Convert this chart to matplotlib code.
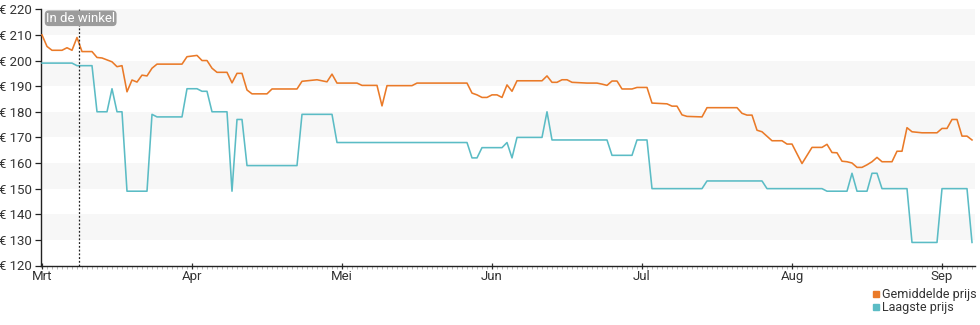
import matplotlib
matplotlib.use("Agg")
import matplotlib.pyplot as plt
from matplotlib.lines import Line2D
import numpy as np

plt.rcParams['font.family'] = ['Roboto', 'DejaVu Sans']

# Day offsets from 1 March and prices (EUR) at each price change
avg_days = [0, 1, 2, 4, 5, 6, 7, 8, 10, 11, 12, 14, 15, 16, 17, 18, 19, 20, 21, 22, 23,
            28, 29, 31, 32, 33, 34, 35, 37, 38, 39, 40, 41, 42, 45, 46, 51, 52, 55, 57,
            58, 59, 63, 64, 67, 68, 69, 74, 75, 85, 86, 87, 88, 89, 90, 91, 92, 93, 94,
            95, 100, 101, 102, 103, 104, 105, 106, 109, 111, 112, 113, 114, 115, 116,
            118, 119, 121, 122, 125, 126, 127, 128, 129, 132, 133, 139, 140, 141, 142,
            143, 144, 146, 148, 149, 150, 152, 154, 156, 157, 158, 159, 160, 161, 162,
            163, 164, 165, 166, 167, 168, 170, 171, 172, 173, 174, 176, 179, 180, 181,
            182, 183, 184, 185, 186]
avg_prices = [210, 205.5, 204, 204, 205, 204, 209, 203.5, 203.5, 201.2, 201, 199.5, 197.6,
              198, 187.8, 192.4, 191.6, 194.3, 194, 197, 198.6,
              198.6, 201.5, 202, 200, 200, 197, 195.4, 195.4, 191.3, 195, 195, 188.5, 187,
              187, 188.9, 188.9, 191.9, 192.5, 191.7,
              194.7, 191.2, 191.2, 190.3, 190.3, 182.3, 190.2, 190.2, 191.2, 191.2, 187.3,
              186.6, 185.6, 185.6, 186.6, 186.6, 185.6, 190.5, 188,
              192.1, 192.1, 194, 191.5, 191.5, 192.5, 192.5, 191.5, 191.2, 191.2, 190.8,
              190.3, 192, 192, 188.9,
              188.9, 189.5, 189.5, 183.4, 183.1, 182.2, 182.2, 178.8, 178.2, 178, 181.6,
              181.6, 179.4, 178.7, 178.7,
              172.8, 172.2, 168.7, 168.7, 167.4, 167.4, 159.8, 166.1, 166.1, 167.3, 164.1,
              164, 160.7, 160.5, 160,
              158.3, 158.3, 159.3, 160.5, 162.2, 160.5, 160.5, 164.6, 164.6, 173.8, 172.2,
              171.8, 171.8, 173.5, 173.5,
              177, 177, 170.5, 170.5, 169]

low_days = [0, 6, 7, 10, 11, 13, 14, 15, 16, 17, 21, 22, 23, 28, 29, 31, 32, 33, 34, 37,
            38, 39, 40, 41, 51, 52, 58, 59, 85, 86, 87, 88, 92, 93, 94, 95, 100, 101, 102,
            113, 114, 118, 119, 121, 122, 132, 133, 144, 145, 156, 157, 161, 162, 163, 165,
            166, 167, 168, 173, 174, 179, 180, 185, 186]
low_prices = [199, 199, 198, 198, 180, 180, 189, 180, 180, 149, 149, 179, 178, 178, 189, 189,
              188, 188, 180, 180,
              149, 177, 177, 159, 159, 179, 179, 168, 168, 162, 162, 166, 166, 168, 162, 170,
              170, 180, 169,
              169, 163, 163, 169, 169, 150, 150, 153, 153, 150, 150, 149, 149, 156, 149, 149,
              156, 156, 150, 150, 129, 129, 150, 150, 129]

month_days = [0, 30, 60, 90, 120, 150, 180]
month_labels = ['Mrt', 'Apr', 'Mei', 'Jun', 'Jul', 'Aug', 'Sep']
store_day = 7.4
y_ticks = list(range(120, 221, 10))

orange = '#ea7a28'
teal = '#5bbcc5'

fig = plt.figure(figsize=(9.8, 3.25), dpi=100)
ax = fig.add_axes([40.5 / 980, 59.5 / 325, (975 - 40.5) / 980, (265.5 - 9.3) / 325])

ax.set_xlim(-0.3, 186.6)
ax.set_ylim(120, 220)

# alternating bands
for lo in range(130, 220, 20):
    ax.axhspan(lo, lo + 10, color='#f7f7f7', lw=0, zorder=0)

ax.plot(avg_days, avg_prices, color=orange, lw=1.15, zorder=3, solid_joinstyle='round')
ax.plot(low_days, low_prices, color=teal, lw=1.15, zorder=3, solid_joinstyle='round')

ax.axvline(store_day, color='#222222', lw=0.9, ls=(0, (1.5, 1.5)), zorder=4)
ax.text(0.006, 0.965, 'In de winkel', transform=ax.transAxes, va='center', ha='left',
        color='white', fontsize=9.5,
        bbox=dict(boxstyle='round,pad=0.1,rounding_size=0.3', fc='#9c9c9c', ec='none'),
        zorder=5)

for s in ['top', 'right']:
    ax.spines[s].set_visible(False)
ax.spines['left'].set_color('#222222')
ax.spines['bottom'].set_color('#222222')
ax.spines['left'].set_linewidth(1.0)
ax.spines['bottom'].set_linewidth(1.0)

ax.set_yticks(y_ticks)
ax.set_yticklabels([f'€ {v}' for v in y_ticks])
ax.set_xticks(month_days)
ax.set_xticklabels(month_labels)
ax.set_xticks(np.arange(0, 187, 1), minor=True)
ax.tick_params(axis='y', length=4, width=0.9, color='#222222', labelsize=9.5,
               labelcolor='#333333', pad=2)
ax.tick_params(axis='x', which='major', length=5, width=0.9, direction='inout',
               color='#333333', labelsize=9.5, labelcolor='#333333', pad=1)
ax.tick_params(axis='x', which='minor', length=2, width=0.6, color='#aaaaaa')

handles = [Line2D([], [], marker='s', ls='none', color=orange, markersize=5),
           Line2D([], [], marker='s', ls='none', color=teal, markersize=5)]
fig.legend(handles, ['Gemiddelde prijs', 'Laagste prijs'], loc='upper left',
           bbox_to_anchor=(871 / 980, 1 - 288 / 325), frameon=False, fontsize=9,
           handletextpad=0.1, labelspacing=0.0, borderpad=0, borderaxespad=0,
           handlelength=0.8, labelcolor='#333333')

fig.savefig('out.png', dpi=100)
